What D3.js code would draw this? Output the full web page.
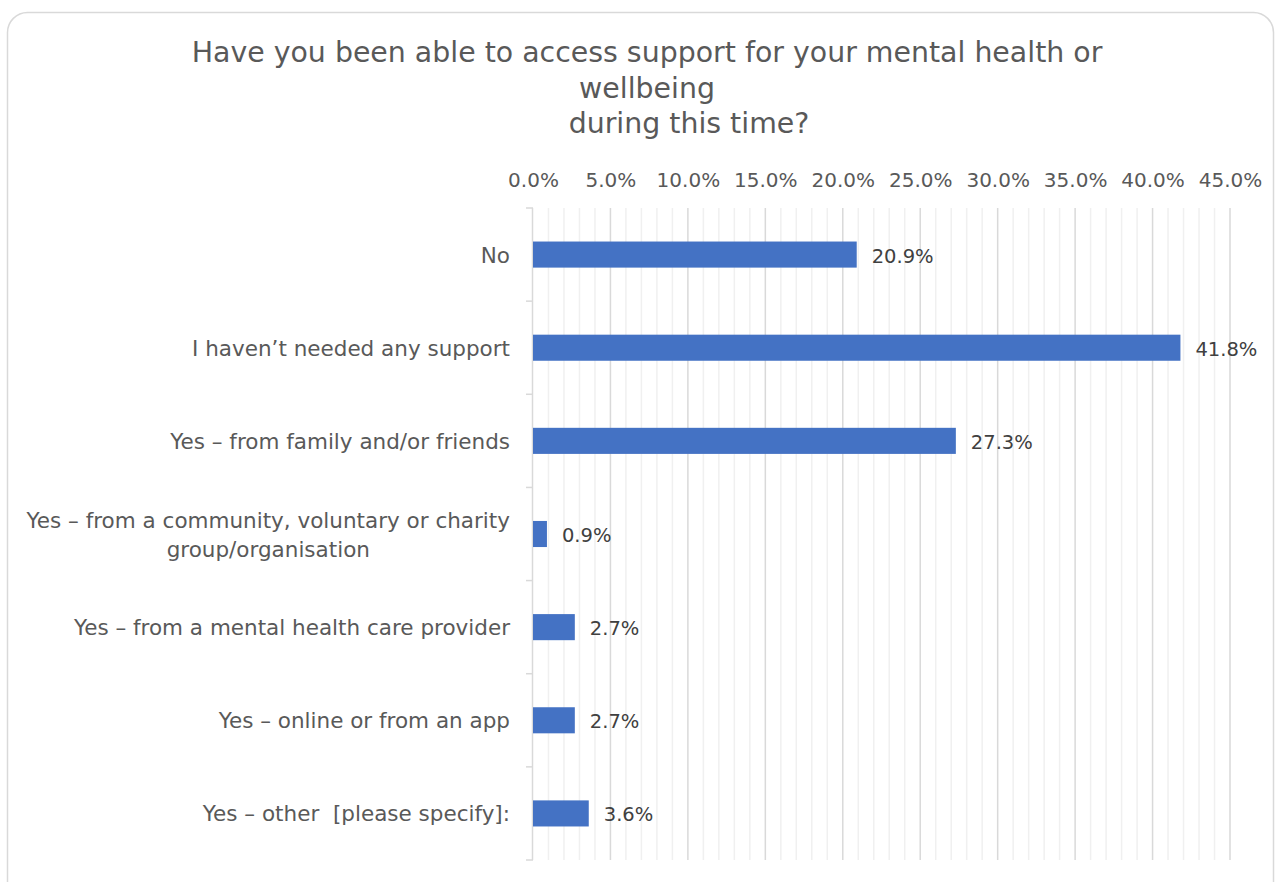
<!DOCTYPE html>
<html>
<head>
<meta charset="utf-8">
<script src="https://cdn.jsdelivr.net/npm/d3@7"></script>
<style>
  body { margin: 0; background: #fff; }
  svg text { font-family: "DejaVu Sans", sans-serif; }
</style>
</head>
<body>
<svg id="chart"></svg>
<script>
// data
const categories = [
  "No",
  "I haven\u2019t needed any support",
  "Yes \u2013 from family and/or friends",
  "Yes \u2013 from a community, voluntary or charity|group/organisation",
  "Yes \u2013 from a mental health care provider",
  "Yes \u2013 online or from an app",
  "Yes \u2013 other  [please specify]:"
];
const values = [20.9, 41.8, 27.3, 0.9, 2.7, 2.7, 3.6];
const tickValues = [0, 5, 10, 15, 20, 25, 30, 35, 40, 45];
const titleLines = [
  "Have you been able to access support for your mental health or",
  "wellbeing",
  "during this time?"
];

const W = 1278, H = 882;
const svg = d3.select("#chart").attr("width", W).attr("height", H);

// card border
svg.append("rect")
  .attr("x", 7.5).attr("y", 12.5)
  .attr("width", 1266).attr("height", 900)
  .attr("rx", 20)
  .attr("fill", "#fff")
  .attr("stroke", "#d9d9d9")
  .attr("stroke-width", 1.5);

// title - last line sits a bit right of centre in the original
const titleShift = [0, 0, 42];
svg.append("g").selectAll("text")
  .data(titleLines)
  .enter().append("text")
  .attr("x", (d, i) => 647 + titleShift[i])
  .attr("y", (d, i) => 62 + i * 35.5)
  .attr("text-anchor", "middle")
  .attr("font-size", 28.4)
  .attr("fill", "#595959")
  .text(d => d);

const plotLeft = 533, plotRight = 1230, plotTop = 208, plotBottom = 860;

const x = d3.scaleLinear().domain([0, 45]).range([plotLeft, plotRight]);
const y = d3.scaleBand().domain(categories).range([plotTop, plotBottom]).paddingInner(0.72).paddingOuter(0.36);
const band = d3.scaleBand().domain(categories).range([plotTop, plotBottom]);

// minor gridlines every 1%
svg.append("g").selectAll("line")
  .data(d3.range(1, 46).filter(v => v % 5 !== 0))
  .enter().append("line")
  .attr("x1", d => x(d)).attr("x2", d => x(d))
  .attr("y1", plotTop).attr("y2", plotBottom)
  .attr("stroke", "#f0f0f0").attr("stroke-width", 1.5);

// major gridlines
svg.append("g").selectAll("line")
  .data(tickValues.slice(1))
  .enter().append("line")
  .attr("x1", d => x(d)).attr("x2", d => x(d))
  .attr("y1", plotTop).attr("y2", plotBottom)
  .attr("stroke", "#d9d9d9").attr("stroke-width", 1.5);

// top axis labels
const xAxis = svg.append("g")
  .attr("transform", `translate(0,${plotTop - 18})`)
  .call(d3.axisTop(x).tickValues(tickValues).tickFormat(d => d.toFixed(1) + "%").tickSize(0));
xAxis.select(".domain").remove();
xAxis.selectAll("text")
  .attr("font-size", 20)
  .attr("fill", "#595959")
  .attr("font-family", "DejaVu Sans, sans-serif");

// y axis line and ticks at category boundaries
svg.append("line")
  .attr("x1", plotLeft - 0.5).attr("x2", plotLeft - 0.5)
  .attr("y1", plotTop).attr("y2", plotBottom)
  .attr("stroke", "#d9d9d9").attr("stroke-width", 1.5);
svg.append("g").selectAll("line")
  .data(categories.map(c => band(c)).concat([plotBottom]))
  .enter().append("line")
  .attr("x1", plotLeft - 7).attr("x2", plotLeft)
  .attr("y1", d => d).attr("y2", d => d)
  .attr("stroke", "#d9d9d9").attr("stroke-width", 1.5);

// category labels (second line centred under the first)
const labelX = 510;
svg.append("g").selectAll("text")
  .data(categories)
  .enter().append("text")
  .attr("font-size", 21.5)
  .attr("fill", "#595959")
  .each(function(d) {
    const parts = d.split("|");
    const cy = band(d) + band.bandwidth() / 2;
    const t = d3.select(this);
    const first = t.append("tspan")
      .attr("x", labelX)
      .attr("text-anchor", "end")
      .attr("y", cy + 8 - (parts.length - 1) * 14.5)
      .style("white-space", "pre")
      .text(parts[0]);
    if (parts.length > 1) {
      const w = first.node().getComputedTextLength();
      t.append("tspan")
        .attr("x", labelX - w / 2)
        .attr("text-anchor", "middle")
        .attr("y", cy + 8 + 14.5)
        .text(parts[1]);
    }
  });

// bars
svg.append("g").selectAll("rect")
  .data(values)
  .enter().append("rect")
  .attr("x", x(0))
  .attr("y", (d, i) => y(categories[i]))
  .attr("width", d => x(d) - x(0))
  .attr("height", y.bandwidth())
  .attr("fill", "#4472c4");

// value labels
svg.append("g").selectAll("text")
  .data(values)
  .enter().append("text")
  .attr("x", d => x(d) + 15)
  .attr("y", (d, i) => band(categories[i]) + band.bandwidth() / 2 + 8)
  .attr("font-size", 19.5)
  .attr("fill", "#404040")
  .text(d => d.toFixed(1) + "%");
</script>
</body>
</html>
